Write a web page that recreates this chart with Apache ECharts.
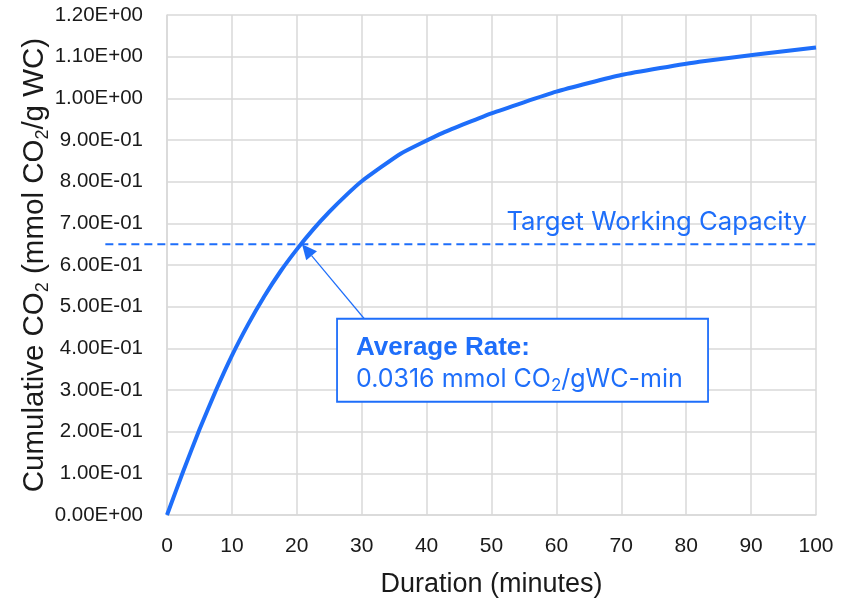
<!DOCTYPE html>
<html><head><meta charset="utf-8">
<script src="https://cdn.jsdelivr.net/npm/echarts@6/dist/echarts.min.js"></script>
<style>html,body{margin:0;padding:0;background:#fff}#c{width:845px;height:603px}</style>
</head><body><div id="c"></div>
<script>
// ---- data ----
const minutes = [0, 2.5, 5, 7.5, 10, 12.5, 15, 17.5, 20, 22.5, 25, 27.5, 30, 36, 42.5, 50, 60, 70, 82, 100];
const cumulativeCO2 = [0, 0.105, 0.205, 0.2975, 0.3825, 0.4575, 0.525, 0.585, 0.6375, 0.685, 0.7275, 0.766, 0.801, 0.867, 0.917, 0.964, 1.016, 1.056, 1.088, 1.122];
const xTickLabels = ['0', '10', '20', '30', '40', '50', '60', '70', '80', '90', '100'];
const yTickLabels = ['0.00E+00', '1.00E-01', '2.00E-01', '3.00E-01', '4.00E-01', '5.00E-01', '6.00E-01', '7.00E-01', '8.00E-01', '9.00E-01', '1.00E+00', '1.10E+00', '1.20E+00'];
const targetCapacity = 0.65;
const targetLabel = 'Target Working Capacity';
const targetLineStartMinute = -9.5;
const rateTitle = 'Average Rate:';
const rateValue = '0.0316';
const arrowTip = [20.8, 0.65];
const arrowTail = [30.4, 0.471];
const boxAnchor = [26.2, 0.471];
const labelAnchor = [98.6, 0.672];

const BLUE = '#1E6EFA';
const GRID = '#D9D9D9';
const chart = echarts.init(document.getElementById('c'), null, {renderer: 'canvas'});

const seriesData = minutes.map((m, i) => [m, cumulativeCO2[i]]);

chart.setOption({
  animation: false,
  backgroundColor: '#fff',
  grid: {left: 167, right: 29, top: 15, bottom: 87.5, containLabel: false},
  xAxis: {
    type: 'value', min: 0, max: 100, interval: 10,
    axisLine: {show: true, lineStyle: {color: GRID, width: 1.5}},
    axisTick: {show: false},
    splitLine: {show: true, lineStyle: {color: GRID, width: 1.5}},
    axisLabel: {
      margin: 21, fontSize: 21, color: '#1a1a1a', fontFamily: 'Liberation Sans',
      formatter: v => xTickLabels[Math.round(v / 10)]
    },
    name: 'Duration (minutes)', nameLocation: 'middle', nameGap: 56, nameMoveOverlap: false,
    nameTextStyle: {fontSize: 27, color: '#1a1a1a', fontFamily: 'Liberation Sans'}
  },
  yAxis: {
    type: 'value', min: 0, max: 1.2, interval: 0.1,
    axisLine: {show: true, lineStyle: {color: GRID, width: 1.5}},
    axisTick: {show: false},
    splitLine: {show: true, lineStyle: {color: GRID, width: 1.5}},
    axisLabel: {
      margin: 24, fontSize: 20.5, color: '#1a1a1a', fontFamily: 'Liberation Sans',
      formatter: v => yTickLabels[Math.round(v * 10)]
    },
    name: '{n|Cumulative CO}{s|2}{n| (mmol CO}{s|2}{n|/g WC)}',
    nameLocation: 'middle', nameGap: 115, nameRotate: 90, nameMoveOverlap: false,
    nameTextStyle: {
      color: '#1a1a1a', fontFamily: 'Liberation Sans', fontSize: 29.5,
      rich: {
        n: {fontSize: 29.5, color: '#1a1a1a', fontFamily: 'Liberation Sans', lineHeight: 34},
        s: {fontSize: 18, color: '#1a1a1a', fontFamily: 'Liberation Sans', verticalAlign: 'bottom'}
      }
    }
  },
  series: [{
    type: 'line', data: seriesData, showSymbol: false, symbol: 'none',
    lineStyle: {color: BLUE, width: 4}, smooth: 0.15, clip: false, z: 3
  }]
});

function px(p) { return chart.convertToPixel({gridIndex: 0}, p); }

const lineStart = px([targetLineStartMinute, targetCapacity]);
const lineEnd = px([100, targetCapacity]);
const tip = px(arrowTip);
const tail = px(arrowTail);
const box = px(boxAnchor);
const lab = px(labelAnchor);

// arrowhead
const dx = tip[0] - tail[0], dy = tip[1] - tail[1];
const len = Math.hypot(dx, dy);
const ux = dx / len, uy = dy / len;
const headLen = 15, headW = 7;
const base = [tip[0] - ux * headLen, tip[1] - uy * headLen];
const head = [
  tip,
  [base[0] - uy * headW, base[1] + ux * headW],
  [base[0] + uy * headW, base[1] - ux * headW]
];

chart.setOption({
  graphic: [
    {type: 'line', z: 10, shape: {x1: lineStart[0], y1: lineStart[1], x2: lineEnd[0], y2: lineEnd[1]},
     style: {stroke: BLUE, lineWidth: 2, lineDash: [8, 5]}},
    {type: 'text', z: 10, x: lab[0], y: lab[1],
     style: {text: targetLabel, fill: BLUE, font: '25.7px Inter', align: 'right', verticalAlign: 'bottom'}},
    {type: 'line', z: 10, shape: {x1: tail[0], y1: tail[1], x2: base[0], y2: base[1]},
     style: {stroke: BLUE, lineWidth: 1.2}},
    {type: 'polygon', z: 10, shape: {points: head}, style: {fill: BLUE}},
    {type: 'rect', z: 10, shape: {x: box[0], y: box[1], width: 371, height: 83},
     style: {fill: '#fff', stroke: BLUE, lineWidth: 1.8}},
    {type: 'text', z: 11, x: box[0] + 19, y: box[1] + 29,
     style: {text: rateTitle, fill: BLUE, font: 'bold 26px Liberation Sans', align: 'left', verticalAlign: 'middle'}},
    {type: 'text', z: 11, x: box[0] + 19, y: box[1] + 61,
     style: {
       text: '{n|' + rateValue + ' mmol CO}{s|2}{n|/gWC-min}',
       align: 'left', verticalAlign: 'middle',
       rich: {
         n: {fill: BLUE, fontSize: 25, fontFamily: 'Inter', lineHeight: 30},
         s: {fill: BLUE, fontSize: 17, fontFamily: 'Inter', verticalAlign: 'bottom'}
       }
     }}
  ]
});
</script>
</body></html>
